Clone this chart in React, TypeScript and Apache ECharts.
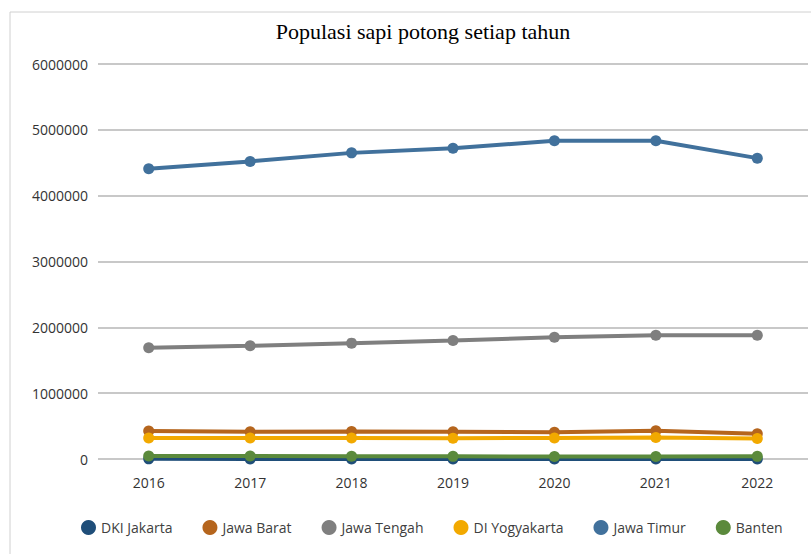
import React, { useEffect, useRef } from "react";
import * as echarts from "echarts";

const years = ["2016", "2017", "2018", "2019", "2020", "2021", "2022"];
const seriesNames = ["DKI Jakarta", "Jawa Barat", "Jawa Tengah", "DI Yogyakarta", "Jawa Timur", "Banten"];
const dkiJakarta = [2000, 1800, 1600, 1500, 1400, 1500, 1400];
const jawaBarat = [425000, 415000, 418000, 415000, 405000, 430000, 385000];
const jawaTengah = [1690000, 1720000, 1760000, 1800000, 1850000, 1880000, 1880000];
const diYogyakarta = [320000, 318000, 320000, 315000, 320000, 325000, 310000];
const jawaTimur = [4410000, 4520000, 4650000, 4720000, 4835000, 4835000, 4570000];
const banten = [45000, 44000, 42000, 40000, 38000, 37000, 40000];
const colors = ["#1F4E79", "#B5651D", "#7F7F7F", "#F2A900", "#41719C", "#5B8A3C"];
const yTicks = [0, 1000000, 2000000, 3000000, 4000000, 5000000, 6000000];

export default function App() {
  const ref = useRef<HTMLDivElement>(null);
  useEffect(() => {
    const chart = echarts.init(ref.current!, undefined, { renderer: "svg" });
    const data = [dkiJakarta, jawaBarat, jawaTengah, diYogyakarta, jawaTimur, banten];
    chart.setOption({
      animation: false,
      backgroundColor: "#ffffff",
      color: colors,
      title: {
        text: "Populasi sapi potong setiap tahun",
        left: 418,
        textAlign: "center",
        top: 15,
        textStyle: { fontFamily: "Liberation Serif", fontSize: 22, fontWeight: "normal", color: "#000" },
      },
      graphic: [
        {
          type: "rect",
          shape: { x: 10, y: 12, width: 820, height: 560 },
          style: { fill: "none", stroke: "#D0D0D0", lineWidth: 1 },
          silent: true,
        },
      ],
      grid: { left: 98, right: 3, top: 64, bottom: 95 },
      legend: {
        data: seriesNames,
        bottom: 14,
        left: 76,
        icon: "circle",
        itemWidth: 15,
        itemHeight: 15,
        itemGap: 30,
        textStyle: { fontFamily: "Open Sans", fontSize: 14, color: "#404040" },
      },
      xAxis: {
        type: "category",
        data: years,
        boundaryGap: true,
        axisLine: { show: false },
        axisTick: { show: false },
        axisLabel: { fontFamily: "Open Sans", fontSize: 14, color: "#333333", margin: 16 },
      },
      yAxis: {
        type: "value",
        min: yTicks[0],
        max: yTicks[yTicks.length - 1],
        interval: 1000000,
        axisLine: { show: false },
        axisTick: { show: false },
        axisLabel: {
          fontFamily: "Open Sans",
          fontSize: 14,
          color: "#333333",
          margin: 10,
          formatter: (v: number) => String(v),
        },
        splitLine: { lineStyle: { color: "#C8C8C8", width: 2 } },
      },
      series: seriesNames.map((name, i) => ({
        name,
        type: "line",
        data: data[i],
        symbol: "circle",
        symbolSize: 11,
        lineStyle: { width: 4, color: colors[i] },
        itemStyle: { color: colors[i] },
        z: i === 5 ? 3 : 2,
      })),
    });
    return () => chart.dispose();
  }, []);
  return (
    <div
      ref={ref}
      style={{ position: "fixed", left: 0, top: 0, width: 811, height: 554 }}
    />
  );
}
